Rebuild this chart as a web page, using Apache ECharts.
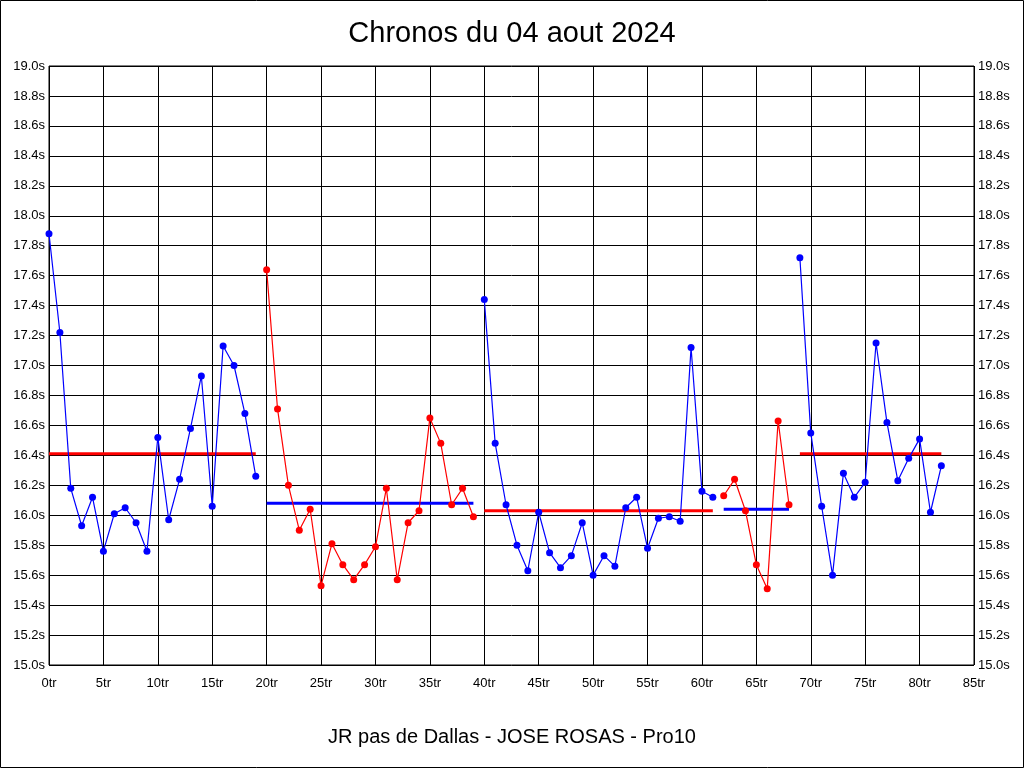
<!DOCTYPE html>
<html>
<head>
<meta charset="utf-8">
<script src="https://cdn.jsdelivr.net/npm/echarts@6/dist/echarts.min.js"></script>
<style>html,body{margin:0;padding:0;background:#fff}#c{width:1024px;height:768px}</style>
</head>
<body>
<div id="c"></div>
<script>
var titleText = 'Chronos du 04 aout 2024';
var subtitleText = 'JR pas de Dallas - JOSE ROSAS - Pro10';

// lap values (seconds), each group starts at the given lap index
var seg1Start = 0;
var seg1 = [17.88, 17.22, 16.18, 15.93, 16.12, 15.76, 16.01, 16.05, 15.95, 15.76,
            16.52, 15.97, 16.24, 16.58, 16.93, 16.06, 17.13, 17.00, 16.68, 16.26];
var seg2Start = 20;
var seg2 = [17.64, 16.71, 16.20, 15.90, 16.04, 15.53, 15.81, 15.67, 15.57, 15.67,
            15.79, 16.18, 15.57, 15.95, 16.03, 16.65, 16.48, 16.07, 16.18, 15.99];
var seg3Start = 40;
var seg3 = [17.44, 16.48, 16.07, 15.80, 15.63, 16.02, 15.75, 15.65, 15.73, 15.95,
            15.60, 15.73, 15.66, 16.05, 16.12, 15.78, 15.98, 15.99, 15.96, 17.12,
            16.16, 16.12];
var seg4Start = 62;
var seg4 = [16.13, 16.24, 16.03, 15.67, 15.51, 16.63, 16.07];
var seg5Start = 69;
var seg5 = [17.72, 16.55, 16.06, 15.60, 16.28, 16.12, 16.22, 17.15, 16.62, 16.23,
            16.38, 16.51, 16.02, 16.33];

// mean lines: [fromLap, toLap, value]
var mean1 = [0, 19, 16.41];
var mean2 = [20, 39, 16.08];
var mean3 = [40, 61, 16.03];
var mean4 = [62, 68, 16.04];
var mean5 = [69, 82, 16.41];

var BLUE = '#0000ff', RED = '#ff0000';

function pts(start, arr) { return arr.map(function (v, i) { return [start + i, v]; }); }
function lapSeries(start, arr, color) {
  return {
    type: 'line', data: pts(start, arr), symbol: 'circle', symbolSize: 7,
    lineStyle: { color: color, width: 1.2 }, itemStyle: { color: color },
    animation: false, silent: true, z: 3
  };
}
function meanSeries(m, color) {
  return {
    type: 'line', data: [[m[0], m[2]], [m[1], m[2]]], symbol: 'none',
    lineStyle: { color: color, width: 3 }, animation: false, silent: true, z: 2
  };
}

var labelFont = { color: '#000', fontFamily: 'Liberation Sans, Arial, sans-serif', fontSize: 13 };

var chart = echarts.init(document.getElementById('c'), null, { renderer: 'canvas' });
chart.setOption({
  backgroundColor: '#fff',
  animation: false,
  title: [
    { text: titleText, left: 'center', top: 14,
      textStyle: { color: '#000', fontFamily: 'Liberation Sans, Arial, sans-serif', fontSize: 29, fontWeight: 'normal' } },
    { text: subtitleText, left: 'center', top: 722,
      textStyle: { color: '#000', fontFamily: 'Liberation Sans, Arial, sans-serif', fontSize: 20, fontWeight: 'normal' } }
  ],
  grid: { left: 49, top: 66, right: 50, bottom: 103, show: true, borderColor: '#000', borderWidth: 1 },
  xAxis: {
    type: 'value', min: 0, max: 85, interval: 5,
    axisLine: { show: false }, axisTick: { show: false },
    splitLine: { show: true, lineStyle: { color: '#000', width: 1 } },
    axisLabel: Object.assign({ formatter: '{value}tr', margin: 12 }, labelFont)
  },
  yAxis: [
    { type: 'value', min: 15, max: 19, interval: 0.2, position: 'left',
      axisLine: { show: false }, axisTick: { show: false },
      splitLine: { show: true, lineStyle: { color: '#000', width: 1 } },
      axisLabel: Object.assign({ formatter: function (v) { return v.toFixed(1) + 's'; }, margin: 4 }, labelFont) },
    { type: 'value', min: 15, max: 19, interval: 0.2, position: 'right',
      axisLine: { show: false }, axisTick: { show: false }, splitLine: { show: false },
      axisLabel: Object.assign({ formatter: function (v) { return v.toFixed(1) + 's'; }, margin: 4 }, labelFont) }
  ],
  graphic: [{
    type: 'rect', shape: { x: 0.5, y: 0.5, width: 1023, height: 767 },
    style: { fill: 'none', stroke: '#000', lineWidth: 1 }, silent: true
  }],
  series: [
    meanSeries(mean1, RED), meanSeries(mean2, BLUE), meanSeries(mean3, RED),
    meanSeries(mean4, BLUE), meanSeries(mean5, RED),
    lapSeries(seg1Start, seg1, BLUE), lapSeries(seg2Start, seg2, RED),
    lapSeries(seg3Start, seg3, BLUE), lapSeries(seg4Start, seg4, RED),
    lapSeries(seg5Start, seg5, BLUE)
  ]
});
</script>
</body>
</html>
